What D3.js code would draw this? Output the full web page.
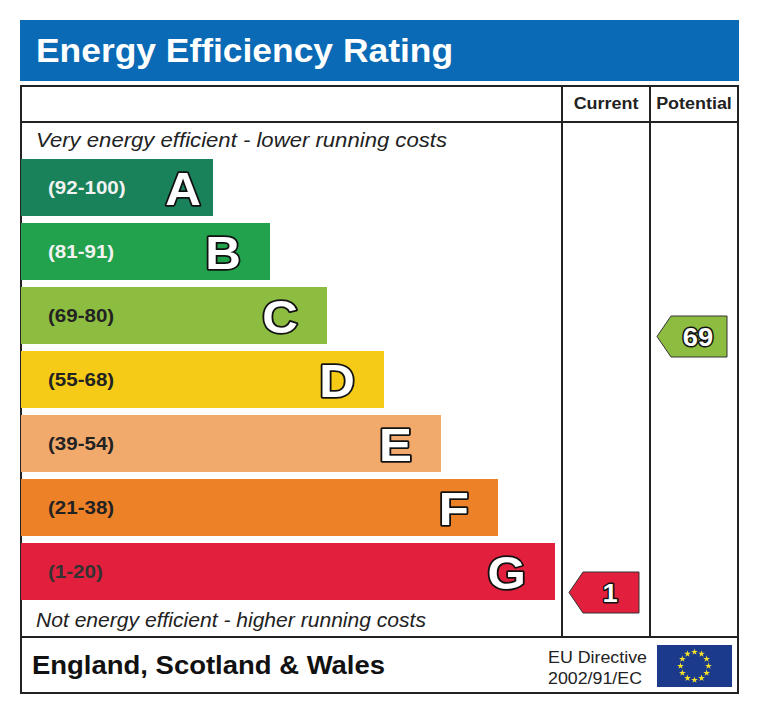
<!DOCTYPE html>
<html>
<head>
<meta charset="utf-8">
<script src="https://cdn.jsdelivr.net/npm/d3@7"></script>
<style>
  body { margin: 0; background: #fff; }
  svg text { font-family: "Liberation Sans", Arial, sans-serif; }
</style>
</head>
<body>
<div id="plot"></div>
<script>
// band data
var letters = ["A", "B", "C", "D", "E", "F", "G"];
var ranges = ["(92-100)", "(81-91)", "(69-80)", "(55-68)", "(39-54)", "(21-38)", "(1-20)"];
var lowBounds = [92, 81, 69, 55, 39, 21, 1];
var bandColors = ["#19825a", "#23a24d", "#8cbd40", "#f5cb17", "#f2aa6c", "#ec8127", "#e21f3d"];
var labelColors = ["#f2f2f2", "#f2f2f2", "#222", "#222", "#222", "#222", "#333"];

// ratings
var ratingNames = ["Current", "Potential"];
var ratingValues = [1, 69];

var width = 760, height = 715;

// the original art is a bit wider than Arial, so stretch text horizontally
function widen(sel, k) {
    sel.each(function () {
        var w = this.getComputedTextLength();
        d3.select(this).attr("textLength", w * k).attr("lengthAdjust", "spacingAndGlyphs");
    });
}
function fitTo(sel, w) {
    sel.attr("textLength", w).attr("lengthAdjust", "spacingAndGlyphs");
}

var svg = d3.select("#plot")
    .append("svg")
    .attr("width", width)
    .attr("height", height);

// title banner
svg.append("rect")
    .attr("x", 20).attr("y", 20)
    .attr("width", 719).attr("height", 61)
    .attr("fill", "#0a6ab5");
svg.append("text")
    .attr("x", 36).attr("y", 62)
    .attr("font-size", 34)
    .attr("font-weight", "bold")
    .attr("fill", "#fff")
    .text("Energy Efficiency Rating")
    .call(fitTo, 417);

// frame
var frame = svg.append("g")
    .attr("fill", "none")
    .attr("stroke", "#222")
    .attr("stroke-width", 2);
frame.append("rect").attr("x", 21).attr("y", 86).attr("width", 717).attr("height", 607);
frame.append("line").attr("x1", 21).attr("x2", 738).attr("y1", 122).attr("y2", 122);
frame.append("line").attr("x1", 21).attr("x2", 738).attr("y1", 637).attr("y2", 637);

// columns
var colX = d3.scaleBand().domain(ratingNames).range([562, 738]);
colX.domain().forEach(function (c) {
    frame.append("line")
        .attr("x1", colX(c)).attr("x2", colX(c))
        .attr("y1", 86).attr("y2", 637);
});
svg.selectAll(".colhead")
    .data(ratingNames)
    .enter().append("text")
    .attr("x", function (d) { return colX(d) + colX.bandwidth() / 2; })
    .attr("y", 109)
    .attr("text-anchor", "middle")
    .attr("font-size", 16)
    .attr("font-weight", "bold")
    .attr("fill", "#222")
    .text(function (d) { return d; })
    .call(widen, 1.12);

// bands
var y = d3.scaleBand().domain(letters).range([159, 600]).paddingInner(7 / 64);
var right = d3.scaleLinear().domain([0, 6]).range([213, 555]);

var bands = svg.selectAll(".band")
    .data(letters)
    .enter().append("g");

bands.append("rect")
    .attr("x", 21)
    .attr("y", function (d) { return y(d); })
    .attr("width", function (d, i) { return right(i) - 21; })
    .attr("height", y.bandwidth())
    .attr("fill", function (d, i) { return bandColors[i]; });

bands.append("text")
    .attr("x", 48)
    .attr("y", function (d) { return y(d) + y.bandwidth() / 2 + 6.5; })
    .attr("font-size", 18)
    .attr("font-weight", "bold")
    .attr("fill", function (d, i) { return labelColors[i]; })
    .text(function (d, i) { return ranges[i]; })
    .call(widen, 1.14);

// big letters: A sits close to its bar end, the rest are inset further
bands.append("text")
    .attr("x", function (d, i) { return right(i) - (i === 0 ? 12 : 29); })
    .attr("y", function (d) { return y(d) + y.bandwidth() / 2 + 17; })
    .attr("text-anchor", "end")
    .attr("font-size", 47)
    .attr("font-weight", "bold")
    .attr("fill", "#fff")
    .attr("stroke", "#111")
    .attr("stroke-width", 3.5)
    .attr("stroke-linejoin", "round")
    .attr("paint-order", "stroke")
    .text(function (d) { return d; })
    .call(widen, 1.05);

// italic captions
svg.append("text")
    .attr("x", 36).attr("y", 147)
    .attr("font-size", 20)
    .attr("font-style", "italic")
    .attr("fill", "#222")
    .text("Very energy efficient - lower running costs")
    .call(fitTo, 411);
svg.append("text")
    .attr("x", 36).attr("y", 627)
    .attr("font-size", 20)
    .attr("font-style", "italic")
    .attr("fill", "#222")
    .text("Not energy efficient - higher running costs")
    .call(fitTo, 390);

// rating arrows
function bandOf(v) {
    for (var i = 0; i < lowBounds.length; i++) if (v >= lowBounds[i]) return i;
    return lowBounds.length - 1;
}

ratingNames.forEach(function (c, k) {
    var v = ratingValues[k];
    var b = bandOf(v);
    var top = y(letters[b]) + 29, h = 41;
    var x0 = colX(c) + 7, x1 = colX(c) + colX.bandwidth() - 11;
    var pts = [[x0, top + h / 2], [x0 + 14, top], [x1, top], [x1, top + h], [x0 + 14, top + h]];
    svg.append("polygon")
        .attr("points", pts.map(function (p) { return p.join(","); }).join(" "))
        .attr("fill", bandColors[b])
        .attr("stroke", "#333")
        .attr("stroke-width", 1);
    svg.append("text")
        .attr("x", (x0 + 14 + x1) / 2 - 1)
        .attr("y", top + h / 2 + 9)
        .attr("text-anchor", "middle")
        .attr("font-size", 26)
        .attr("font-weight", "bold")
        .attr("fill", "#fff")
        .attr("stroke", "#111")
        .attr("stroke-width", 3)
        .attr("stroke-linejoin", "round")
        .attr("paint-order", "stroke")
        .text(v)
        .call(widen, 1.05);
});

// footer
svg.append("text")
    .attr("x", 32).attr("y", 674)
    .attr("font-size", 25.5)
    .attr("font-weight", "bold")
    .attr("fill", "#111")
    .text("England, Scotland & Wales")
    .call(fitTo, 353);
svg.append("text")
    .attr("x", 548).attr("y", 663)
    .attr("font-size", 16.5)
    .attr("fill", "#222")
    .text("EU Directive")
    .call(fitTo, 99);
svg.append("text")
    .attr("x", 548).attr("y", 684)
    .attr("font-size", 16.5)
    .attr("fill", "#222")
    .text("2002/91/EC")
    .call(fitTo, 94);

// EU flag
svg.append("rect")
    .attr("x", 657).attr("y", 645)
    .attr("width", 75).attr("height", 42)
    .attr("fill", "#1b3a8c");
var star = d3.symbol().type(d3.symbolStar).size(14);
svg.selectAll(".star")
    .data(d3.range(12))
    .enter().append("path")
    .attr("d", star)
    .attr("fill", "#f4e12a")
    .attr("transform", function (d) {
        var a = d / 12 * 2 * Math.PI;
        return "translate(" + (694.5 + 14 * Math.sin(a)) + "," + (666 - 14 * Math.cos(a)) + ")";
    });
</script>
</body>
</html>
